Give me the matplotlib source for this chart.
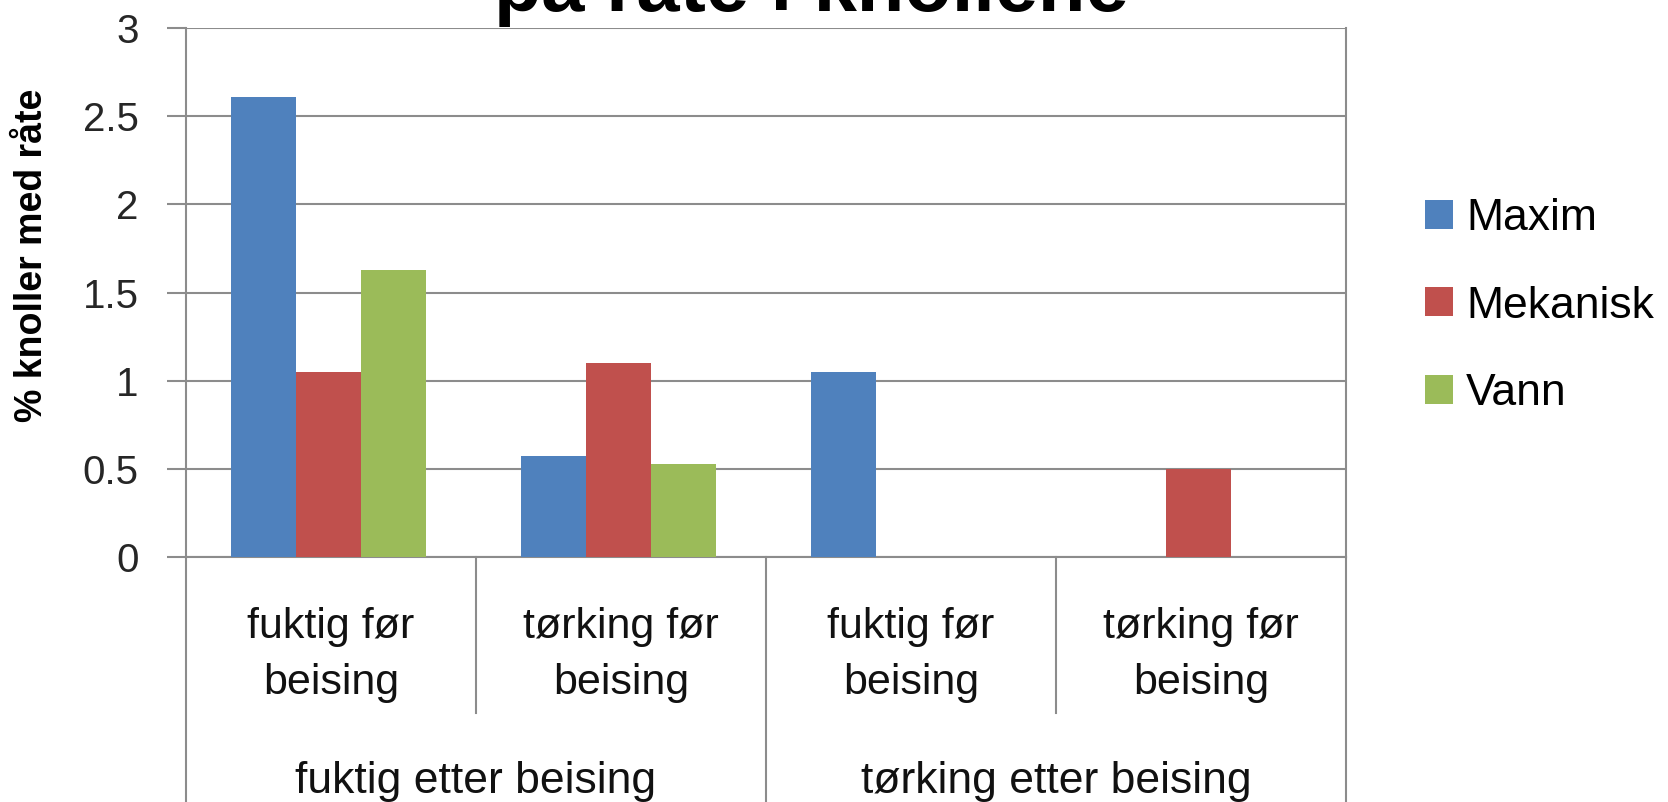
import numpy as np
import matplotlib.pyplot as plt
from matplotlib.transforms import blended_transform_factory

# data
sub_labels = ['fuktig før\nbeising', 'tørking før\nbeising', 'fuktig før\nbeising', 'tørking før\nbeising']
group_labels = ['fuktig etter beising', 'tørking etter beising']
series = ['Maxim', 'Mekanisk', 'Vann']
maxim = [2.61, 0.57, 1.05, 0.0]
mekanisk = [1.05, 1.10, 0.0, 0.50]
vann = [1.63, 0.53, 0.0, 0.0]
colors = ['#4F81BD', '#C0504D', '#9BBB59']

W, H = 1668, 802
fig = plt.figure(figsize=(W/100, H/100), dpi=100)
# axes box in pixels: left 186, right 1346, top 28, bottom 557
ax = fig.add_axes([186/W, 1-557/H, (1346-186)/W, (557-28)/H])

gray = '#8c8c8c'
font = ['Liberation Sans', 'DejaVu Sans']
x = np.arange(len(sub_labels))
w = 0.224
for i, (vals, name) in enumerate(zip([maxim, mekanisk, vann], series)):
    ax.bar(x + (i-1)*w - 0.01, vals, w, color=colors[i], label=name, zorder=3)

ax.set_xlim(-0.5, 3.5)
ax.set_ylim(0, 3)
ax.set_yticks(np.arange(0, 3.01, 0.5))
ax.set_yticklabels(['0', '0.5', '1', '1.5', '2', '2.5', '3'], fontsize=29,
                   family=font, color='#262626')
ax.tick_params(axis='y', direction='out', length=14, width=1.5, color=gray, pad=20)
ax.set_xticks([])
ax.grid(axis='y', color=gray, linewidth=1.5, zorder=0)
ax.spines['top'].set_visible(False)
for s in ['left', 'right', 'bottom']:
    ax.spines[s].set_color(gray)
    ax.spines[s].set_linewidth(1.5)

# category boxes below the axis
tr = blended_transform_factory(ax.transData, ax.transAxes)
ah = 557 - 28
inner_bot = -(713-557)/ah
outer_bot = -(802-557)/ah - 0.01
for xv in [0.5, 2.5]:
    ax.plot([xv, xv], [0, inner_bot], color=gray, lw=1.5, transform=tr, clip_on=False)
for xv in [-0.5, 1.5, 3.5]:
    ax.plot([xv, xv], [0, outer_bot], color=gray, lw=1.5, transform=tr, clip_on=False)

for xv, lab in zip(x, sub_labels):
    ax.text(xv, -(655-557)/ah, lab, transform=tr, ha='center', va='center',
            fontsize=31, family=font, linespacing=1.5, color='#111111')
for j, lab in enumerate(group_labels):
    ax.text(2*j + 0.5, -(782-557)/ah, lab, transform=tr, ha='center', va='center',
            fontsize=32, family=font, color='#111111')

# y label and partially visible title
fig.text(32/W, 1-255/H, '% knoller med råte', rotation=90, ha='center', va='center',
         fontsize=27, fontweight='bold', family=font)
fig.text(811/W, 1-11/H, 'på råte i knollene', ha='center', va='baseline',
         fontsize=56, fontweight='bold', family=font)

leg = fig.legend(loc='center left', bbox_to_anchor=(1425/W, 1-306/H), frameon=False,
                 prop={'family': font, 'size': 32},
                 handlelength=0.62, handleheight=0.62, handletextpad=0.3,
                 labelspacing=1.05, borderpad=0, borderaxespad=0)

fig.savefig('out.png', dpi=100)
